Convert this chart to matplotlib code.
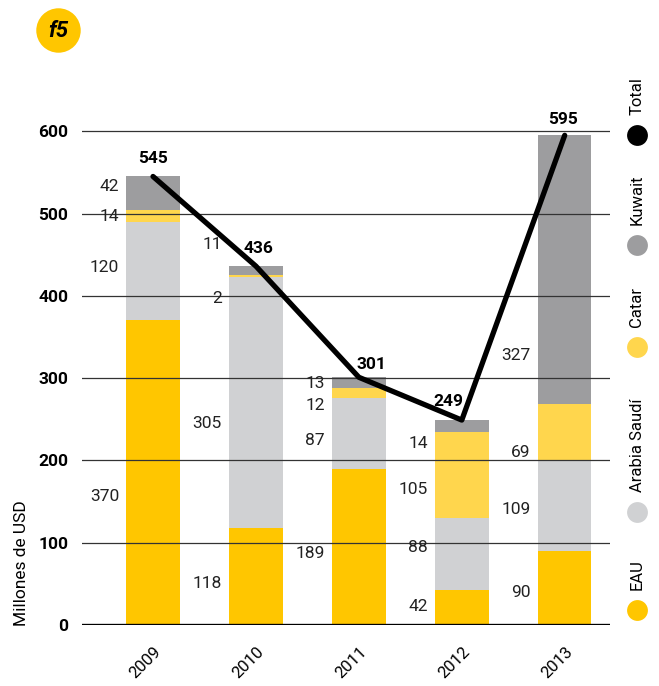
import numpy as np
import matplotlib
matplotlib.use("Agg")
import matplotlib.pyplot as plt
from matplotlib.lines import Line2D

plt.rcParams['font.family'] = ['Roboto', 'DejaVu Sans']

# data
years = ['2009', '2010', '2011', '2012', '2013']
series = ['EAU', 'Arabia Saudí', 'Catar', 'Kuwait']
eau = [370, 118, 189, 42, 90]
arabia = [120, 305, 87, 88, 109]
catar = [14, 2, 12, 105, 69]
kuwait = [42, 11, 13, 14, 327]
total = [545, 436, 301, 249, 595]

colors = {'EAU': '#FFC600', 'Arabia Saudí': '#D0D1D3',
          'Catar': '#FFD64D', 'Kuwait': '#9D9D9F', 'Total': '#000000'}

# layout: where each value label sits (data units), per series
label_y = [
    [156, 51, 87, 22, 39],      # EAU
    [435, 245, 224, 94, 140],   # Arabia Saudí
    [496, 397, 267, 165, 209],  # Catar
    [533, 462, 294, 221, 327],  # Kuwait
]
total_dx = [0.0, 0.02, 0.12, -0.13, -0.02]
total_dy = [22, 22, 15, 22, 19]

W, H = 659, 686
fig = plt.figure(figsize=(W / 100, H / 100), dpi=100)
ax = fig.add_axes([82 / W, (H - 625) / H, (610 - 82) / W, (625 - 95) / H])

x = np.arange(len(years))
bw = 0.52
bottom = np.zeros(len(years))
for name, vals in zip(series, [eau, arabia, catar, kuwait]):
    ax.bar(x, vals, bw, bottom=bottom, color=colors[name], zorder=1)
    bottom += np.array(vals)

for vals, ys in zip([eau, arabia, catar, kuwait], label_y):
    for i, v in enumerate(vals):
        ax.text(x[i] - bw / 2 - 0.07, ys[i], str(v), ha='right', va='center',
                fontsize=12.5, color='#222222', zorder=5)

ax.plot(x, total, color='black', lw=3.8, solid_capstyle='round', zorder=4)
for i, t in enumerate(total):
    ax.text(x[i] + total_dx[i], t + total_dy[i], str(t), ha='center', va='center',
            fontsize=12.5, fontweight='bold', zorder=5)

for g in range(100, 700, 100):
    ax.axhline(g, color='#333333', lw=0.9, zorder=3)
ax.axhline(0, color='black', lw=2.4, zorder=3)

ax.set_xlim(-0.69, 4.44)
ax.set_ylim(0, 644)
ax.set_yticks(range(0, 700, 100))
ax.set_yticklabels([str(v) for v in range(0, 700, 100)], fontweight='bold', fontsize=12.5)
ax.set_xticks(x)
ax.set_xticklabels(years, rotation=45, ha='right', va='top',
                   rotation_mode='anchor', fontsize=12)
ax.tick_params(axis='y', length=0, pad=10)
ax.tick_params(axis='x', length=0, pad=14)
for s in ax.spines.values():
    s.set_visible(False)

fig.text(22 / W, (H - 626) / H, 'Millones de USD', rotation=90,
         ha='center', va='bottom', fontsize=12.5)

# legend, vertical on the right
leg_names = ['Total', 'Kuwait', 'Catar', 'Arabia Saudí', 'EAU']
leg_y = [135, 245, 347, 512, 610]
for name, py in zip(leg_names, leg_y):
    fig.add_artist(Line2D([637 / W], [(H - py) / H], marker='o', markersize=15,
                          color=colors[name], markeredgewidth=0,
                          transform=fig.transFigure))
    fig.text(637 / W, (H - py + 20) / H, name, rotation=90, ha='center',
             va='bottom', fontsize=12)

# badge
fig.add_artist(Line2D([58 / W], [(H - 30) / H], marker='o', markersize=32,
                      color='#FFC600', markeredgewidth=0, transform=fig.transFigure))
fig.text(58 / W, (H - 31) / H, 'f5', ha='center', va='center', fontsize=16,
         fontweight='bold', fontstyle='italic')

fig.savefig('out.png', dpi=100)
